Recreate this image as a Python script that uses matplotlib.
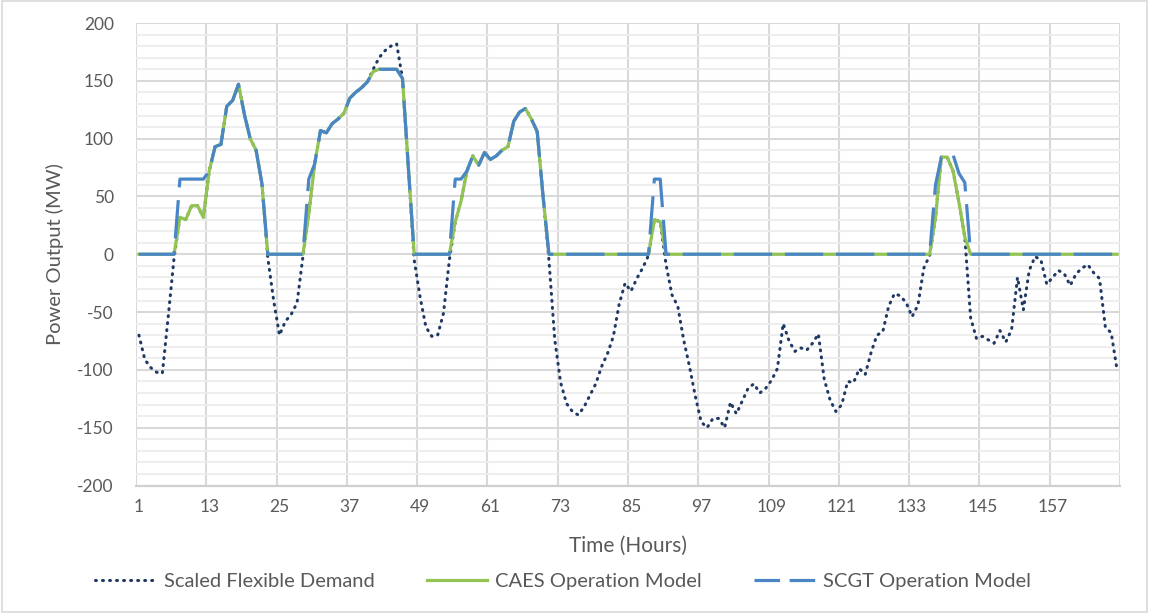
import matplotlib
matplotlib.use("Agg")
import matplotlib.pyplot as plt
from matplotlib.lines import Line2D
from matplotlib.patches import Rectangle
import numpy as np

# hourly values (MW), hours 1..168
hours = list(range(1, 169))

demand = [
    -70, -91, -98, -102, -103, -54, -3, 32, 30, 42, 42, 32,
    72, 93, 95, 128, 133, 147, 121, 100, 90, 61, -3, -40,
    -70, -58, -52, -42, -2, 35, 78, 107, 105, 113, 117, 122,
    135, 140, 144, 149, 160, 170, 176, 180, 182, 152, 75, -5,
    -37, -63, -71, -70, -51, -5, 28, 46, 72, 85, 77, 88,
    82, 85, 90, 93, 115, 123, 126, 117, 106, 50, -5, -74,
    -111, -129, -136, -139, -132, -122, -112, -97, -86, -71, -43, -25,
    -32, -21, -12, -1, 30, 28, -9, -35, -45, -74, -97, -123,
    -145, -150, -142, -142, -150, -128, -138, -127, -116, -112, -120, -116,
    -109, -99, -60, -75, -84, -81, -83, -77, -69, -108, -126, -136,
    -130, -110, -111, -99, -104, -85, -70, -67, -45, -34, -36, -42,
    -54, -44, -12, -1, 32, 84, 84, 72, 45, 15, -55, -73,
    -71, -74, -77, -66, -76, -65, -20, -48, -14, -2, -5, -26,
    -20, -14, -17, -27, -17, -12, -9, -16, -21, -63, -68, -100,
]

caes = [
    0, 0, 0, 0, 0, 0, 0, 32, 30, 42, 42, 32,
    72, 93, 95, 128, 133, 147, 121, 100, 90, 61, 0, 0,
    0, 0, 0, 0, 0, 35, 78, 107, 105, 113, 117, 122,
    135, 140, 144, 149, 158, 160, 160, 160, 160, 152, 75, 0,
    0, 0, 0, 0, 0, 0, 28, 46, 72, 85, 77, 88,
    82, 85, 90, 93, 115, 123, 126, 117, 106, 50, 0, 0,
    0, 0, 0, 0, 0, 0, 0, 0, 0, 0, 0, 0,
    0, 0, 0, 0, 30, 28, 0, 0, 0, 0, 0, 0,
    0, 0, 0, 0, 0, 0, 0, 0, 0, 0, 0, 0,
    0, 0, 0, 0, 0, 0, 0, 0, 0, 0, 0, 0,
    0, 0, 0, 0, 0, 0, 0, 0, 0, 0, 0, 0,
    0, 0, 0, 0, 32, 84, 84, 72, 45, 15, 0, 0,
    0, 0, 0, 0, 0, 0, 0, 0, 0, 0, 0, 0,
    0, 0, 0, 0, 0, 0, 0, 0, 0, 0, 0, 0,
]

scgt = [
    0, 0, 0, 0, 0, 0, 0, 65, 65, 65, 65, 65,
    72, 93, 95, 128, 133, 147, 121, 100, 90, 61, 0, 0,
    0, 0, 0, 0, 0, 65, 78, 107, 105, 113, 117, 122,
    135, 140, 144, 149, 158, 160, 160, 160, 160, 152, 75, 0,
    0, 0, 0, 0, 0, 0, 65, 65, 72, 85, 77, 88,
    82, 85, 90, 93, 115, 123, 126, 117, 106, 50, 0, 0,
    0, 0, 0, 0, 0, 0, 0, 0, 0, 0, 0, 0,
    0, 0, 0, 0, 65, 65, 0, 0, 0, 0, 0, 0,
    0, 0, 0, 0, 0, 0, 0, 0, 0, 0, 0, 0,
    0, 0, 0, 0, 0, 0, 0, 0, 0, 0, 0, 0,
    0, 0, 0, 0, 0, 0, 0, 0, 0, 0, 0, 0,
    0, 0, 0, 0, 60, 84, 85, 86, 70, 62, 0, 0,
    0, 0, 0, 0, 0, 0, 0, 0, 0, 0, 0, 0,
    0, 0, 0, 0, 0, 0, 0, 0, 0, 0, 0, 0,
]

x_labels = list(range(1, 169, 12))
series_names = ["Scaled Flexible Demand", "CAES Operation Model", "SCGT Operation Model"]

plt.rcParams["font.family"] = ["Lato", "DejaVu Sans"]
plt.rcParams["axes.unicode_minus"] = False
text_col = "#595959"
dot_style = (0, (0.3, 2.0))

fig = plt.figure(figsize=(11.49, 6.13), dpi=100)
ax = fig.add_axes([136 / 1149, 1 - 485.5 / 613, 984 / 1149, 462.5 / 613])

# gridlines
ax.set_xlim(0.5, 168.5)
ax.set_ylim(-200, 200)
ax.set_yticks(np.arange(-200, 201, 50))
ax.set_yticks(np.arange(-200, 201, 10), minor=True)
ax.set_xticks(x_labels)
ax.set_xticks(np.arange(0.5, 169, 12), minor=True)
ax.grid(which="minor", axis="y", color="#EDEDED", lw=1.3, zorder=0)
ax.grid(which="major", axis="y", color="#D9D9D9", lw=1.5, zorder=0)
ax.grid(which="minor", axis="x", color="#D9D9D9", lw=1.5, zorder=0)
ax.set_axisbelow(True)
for s in ["top", "right", "left"]:
    ax.spines[s].set_visible(False)
ax.spines["bottom"].set_color("#D0D0D0")
ax.spines["bottom"].set_linewidth(1.6)

ax.tick_params(which="both", length=0)
ax.tick_params(axis="y", pad=16, labelsize=12.5, labelcolor=text_col)
ax.tick_params(axis="x", pad=10, labelsize=12.5, labelcolor=text_col)

# series
ax.plot(hours, demand, color="#1F3864", lw=2.2, linestyle=dot_style,
        dash_capstyle="round", zorder=3, label=series_names[0])
ax.plot(hours, caes, color="#92C353", lw=2.3, zorder=4, label=series_names[1])
ax.plot(hours, scgt, color="#4A86C6", lw=2.3, linestyle=(0, (12.0, 4.0)),
        zorder=5, label=series_names[2])

ax.set_xlabel("Time (Hours)", fontsize=15, color=text_col)
ax.set_ylabel("Power Output (MW)", fontsize=14.5, color=text_col)
ax.xaxis.set_label_coords(0.5, -0.108)
ax.yaxis.set_label_coords(-0.073, 0.5)

handles = [
    Line2D([0], [0], color="#1F3864", lw=2.2, linestyle=dot_style, dash_capstyle="round"),
    Line2D([0], [0], color="#92C353", lw=2.3),
    Line2D([0], [0], color="#4A86C6", lw=2.3, linestyle=(0, (8.0, 3.0))),
]
fig.legend(handles, series_names, loc="center", bbox_to_anchor=(563 / 1149, 1 - 581 / 613),
           ncol=3, frameon=False, fontsize=14.5, labelcolor=text_col,
           handlelength=3.0, columnspacing=2.6, handletextpad=0.4)

# chart area border
fig.patches.append(Rectangle((0.002, 0.002), 0.996, 0.996, transform=fig.transFigure,
                             fill=False, edgecolor="#D9D9D9", lw=1.2))

fig.savefig("out.png", dpi=100)
